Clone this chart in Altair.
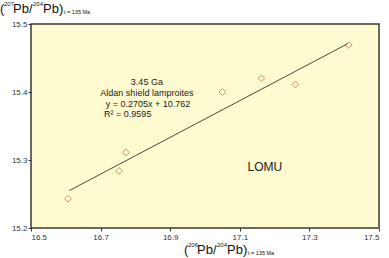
import altair as alt
import pandas as pd

# data
pb206 = [16.606, 16.753, 16.773, 17.050, 17.162, 17.260, 17.413]
pb207 = [15.243, 15.284, 15.311, 15.400, 15.420, 15.411, 15.469]
fit_x = [16.61, 17.41]
fit_y = [15.255, 15.471]
x_ticks = [16.5, 16.6, 16.7, 16.8, 16.9, 17.0, 17.1, 17.2, 17.3, 17.4, 17.5]
y_ticks = [15.2, 15.25, 15.3, 15.35, 15.4, 15.45, 15.5]
note_text = ["3.45 Ga", "Aldan shield lamproites", "y = 0.2705x + 10.762", "R\u00b2 = 0.9595"]
note_x = [16.833, 16.833, 16.836, 16.778]
note_y = [15.415, 15.399, 15.383, 15.367]
lomu_text = ["LOMU"]
lomu_x = [17.172]
lomu_y = [15.289]

FONT = "Liberation Sans"
pts = pd.DataFrame({"x": pb206, "y": pb207})
fit = pd.DataFrame({"x": fit_x, "y": fit_y})
notes = pd.DataFrame({"t": note_text, "x": note_x, "y": note_y})
lomu = pd.DataFrame({"t": lomu_text, "x": lomu_x, "y": lomu_y})

xs = alt.Scale(domain=[16.5, 17.5], nice=False, zero=False)
ys = alt.Scale(domain=[15.2, 15.5], nice=False, zero=False)

xax = alt.Axis(values=x_ticks, labelExpr="round(datum.value*10)%2==1 ? format(datum.value,'.1f') : ''",
               title=None, grid=False, domain=False, tickSize=3, tickColor="#333", tickWidth=1,
               labelFontSize=8, labelColor="#333", labelFont=FONT, labelPadding=2)
yax = alt.Axis(values=y_ticks, labelExpr="round(datum.value*100)%10==0 ? format(datum.value,'.1f') : ''",
               title=None, grid=False, domain=False, tickSize=3, tickColor="#333", tickWidth=1,
               labelFontSize=8, labelColor="#333", labelFont=FONT, labelPadding=1)

base = alt.Chart(pts).mark_point(shape="diamond", size=45, filled=False, color="#b5653f", strokeWidth=1).encode(
    x=alt.X("x:Q", scale=xs, axis=xax),
    y=alt.Y("y:Q", scale=ys, axis=yax),
)
line = alt.Chart(fit).mark_line(color="#4a4a3c", strokeWidth=1).encode(
    x=alt.X("x:Q", scale=xs), y=alt.Y("y:Q", scale=ys))
note = alt.Chart(notes).mark_text(fontSize=9, font=FONT, color="#222").encode(
    x=alt.X("x:Q", scale=xs), y=alt.Y("y:Q", scale=ys), text="t:N")
lm = alt.Chart(lomu).mark_text(fontSize=12, font=FONT, color="#222").encode(
    x=alt.X("x:Q", scale=xs), y=alt.Y("y:Q", scale=ys), text="t:N")

OX, OY = 31, 24
def title_pieces(x0, yb, supy, suby):
    # (text, absolute x, absolute baseline, size)
    return [
        ("(", x0, yb, 13),
        (None, x0 + 4, supy, 6),
        ("Pb/", x0 + 13, yb, 13),
        (None, x0 + 33, supy, 6),
        ("Pb)", x0 + 43, yb, 13),
        ("t = 135 Ma", x0 + 64, suby, 5.5),
    ]

layers = [base, line, note, lm]
def add_title(pieces, sups):
    k = 0
    for txt, ax, ay, sz in pieces:
        if txt is None:
            txt = sups[k]; k += 1
        layers.append(alt.Chart(pd.DataFrame({"t": [txt]})).mark_text(
            fontSize=sz, font=FONT, color="#111", align="left", baseline="alphabetic").encode(
            x=alt.value(ax - OX), y=alt.value(ay - OY), text="t:N"))

add_title(title_pieces(0, 13, 6, 14), ["207", "204"])
add_title(title_pieces(184, 254, 247, 255), ["206", "204"])

chart = alt.layer(*layers).properties(
    width=348, height=204, autosize="none", background="white",
    padding={"left": OX, "top": OY, "right": 10, "bottom": 30},
).configure_view(fill="#fffbd0", stroke="#3a3a2e", strokeWidth=1.5)

chart.save("out.html", embed_options={"renderer": "svg", "actions": False})
